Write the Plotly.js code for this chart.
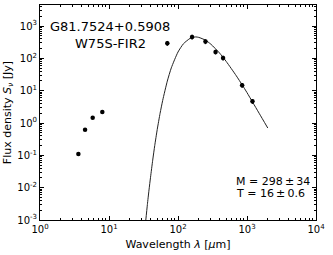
<!DOCTYPE html>
<html>
<head>
<meta charset="utf-8">
<script src="https://cdn.plot.ly/plotly-3.0.1.min.js"></script>
<style>html,body{margin:0;padding:0;background:#fff;}#plot{width:333px;height:255px;}</style>
</head>
<body>
<div id="plot"></div>
<script>
// Photometry (wavelength in micron, flux density in Jy)
var obsWavelength = [3.6, 4.5, 5.8, 8.0, 70, 160, 250, 350, 450, 850, 1200];
var obsFlux = [0.11, 0.62, 1.45, 2.2, 295, 460, 330, 158, 103, 14.8, 4.7];
var obsError = [0, 0, 0, 0, 50, 75, 55, 26, 17, 2.5, 0.8];

// Fitted greybody curve
var fitWavelength = [34, 36, 38, 40, 43, 46, 50, 55, 60, 70, 80, 100, 120, 150, 170, 181, 200, 250, 300, 400, 500, 700, 850, 1000, 1200, 1500, 2000];
var fitFlux = [0.0009, 0.003, 0.0085, 0.021, 0.071, 0.2, 0.63, 2.0, 5.0, 19.8, 50.7, 157, 283, 416, 451, 460, 445, 365, 273, 146, 80, 28.8, 15.2, 8.7, 4.5, 2.0, 0.7];

// Tick labels
var xTickVals = [1, 10, 100, 1000, 10000];
var xTickText = ['10<sup>0</sup>', '10<sup>1</sup>', '10<sup>2</sup>', '10<sup>3</sup>', '10<sup>4</sup>'];
var yTickVals = [0.001, 0.01, 0.1, 1, 10, 100, 1000];
var yTickText = ['10<sup>-3</sup>', '10<sup>-2</sup>', '10<sup>-1</sup>', '10<sup>0</sup>', '10<sup>1</sup>', '10<sup>2</sup>', '10<sup>3</sup>'];

var sourceName = 'G81.7524+0.5908';
var sourceAlias = 'W75S-FIR2';
var massText = 'M = 298\u2009±\u200934';
var tempText = 'T = 16\u2009±\u20090.6';

var font = 'DejaVu Sans, sans-serif';

var traces = [
  {
    x: fitWavelength, y: fitFlux, type: 'scatter', mode: 'lines',
    line: {color: '#222', width: 1, shape: 'spline', smoothing: 0.6},
    hoverinfo: 'skip', cliponaxis: true
  },
  {
    x: obsWavelength, y: obsFlux, type: 'scatter', mode: 'markers',
    marker: {color: 'black', size: 4.5},
    error_y: {type: 'data', array: obsError, visible: true, color: 'black', thickness: 1.5, width: 0}
  }
];

var axisCommon = {
  type: 'log',
  showgrid: false, zeroline: false,
  showline: true, linecolor: 'black', linewidth: 1,
  mirror: 'allticks',
  ticks: 'inside', ticklen: 4, tickwidth: 1, tickcolor: 'black',
  tickmode: 'array',
  tickfont: {family: font, size: 10, color: 'black'},
  minor: {ticks: 'inside', ticklen: 2, tickwidth: 1, tickcolor: 'black', dtick: 'D1', showgrid: false}
};

var layout = {
  width: 333, height: 255,
  margin: {l: 40, r: 17, t: 5, b: 35},
  paper_bgcolor: 'white', plot_bgcolor: 'white',
  showlegend: false,
  font: {family: font, color: 'black'},
  xaxis: Object.assign({}, axisCommon, {
    range: [0, 4],
    tickvals: xTickVals, ticktext: xTickText,
    title: {text: 'Wavelength <i>λ</i> [<i>μ</i>m]', font: {family: font, size: 11, color: 'black'}, standoff: 6}
  }),
  yaxis: Object.assign({}, axisCommon, {
    range: [-3, 3.65],
    tickvals: yTickVals, ticktext: yTickText,
    title: {text: 'Flux density <i>S</i><sub><i>ν</i></sub> [Jy]', font: {family: font, size: 11, color: 'black'}, standoff: 3}
  }),
  annotations: [
    {xref: 'paper', yref: 'paper', x: 0.254, y: 0.898, text: sourceName, showarrow: false,
     xanchor: 'center', yanchor: 'middle', font: {family: font, size: 13, color: 'black'}},
    {xref: 'paper', yref: 'paper', x: 0.254, y: 0.823, text: sourceAlias, showarrow: false,
     xanchor: 'center', yanchor: 'middle', font: {family: font, size: 13, color: 'black'}},
    {xref: 'paper', yref: 'paper', x: 0.7065, y: 0.179, text: massText, showarrow: false,
     xanchor: 'left', yanchor: 'middle', height: 11, borderpad: 0, font: {family: font, size: 11, color: 'black'}},
    {xref: 'paper', yref: 'paper', x: 0.7065, y: 0.124, text: tempText, showarrow: false,
     xanchor: 'left', yanchor: 'middle', height: 11, borderpad: 0, font: {family: font, size: 11, color: 'black'}}
  ]
};

Plotly.newPlot('plot', traces, layout, {staticPlot: true, displayModeBar: false});
</script>
</body>
</html>
